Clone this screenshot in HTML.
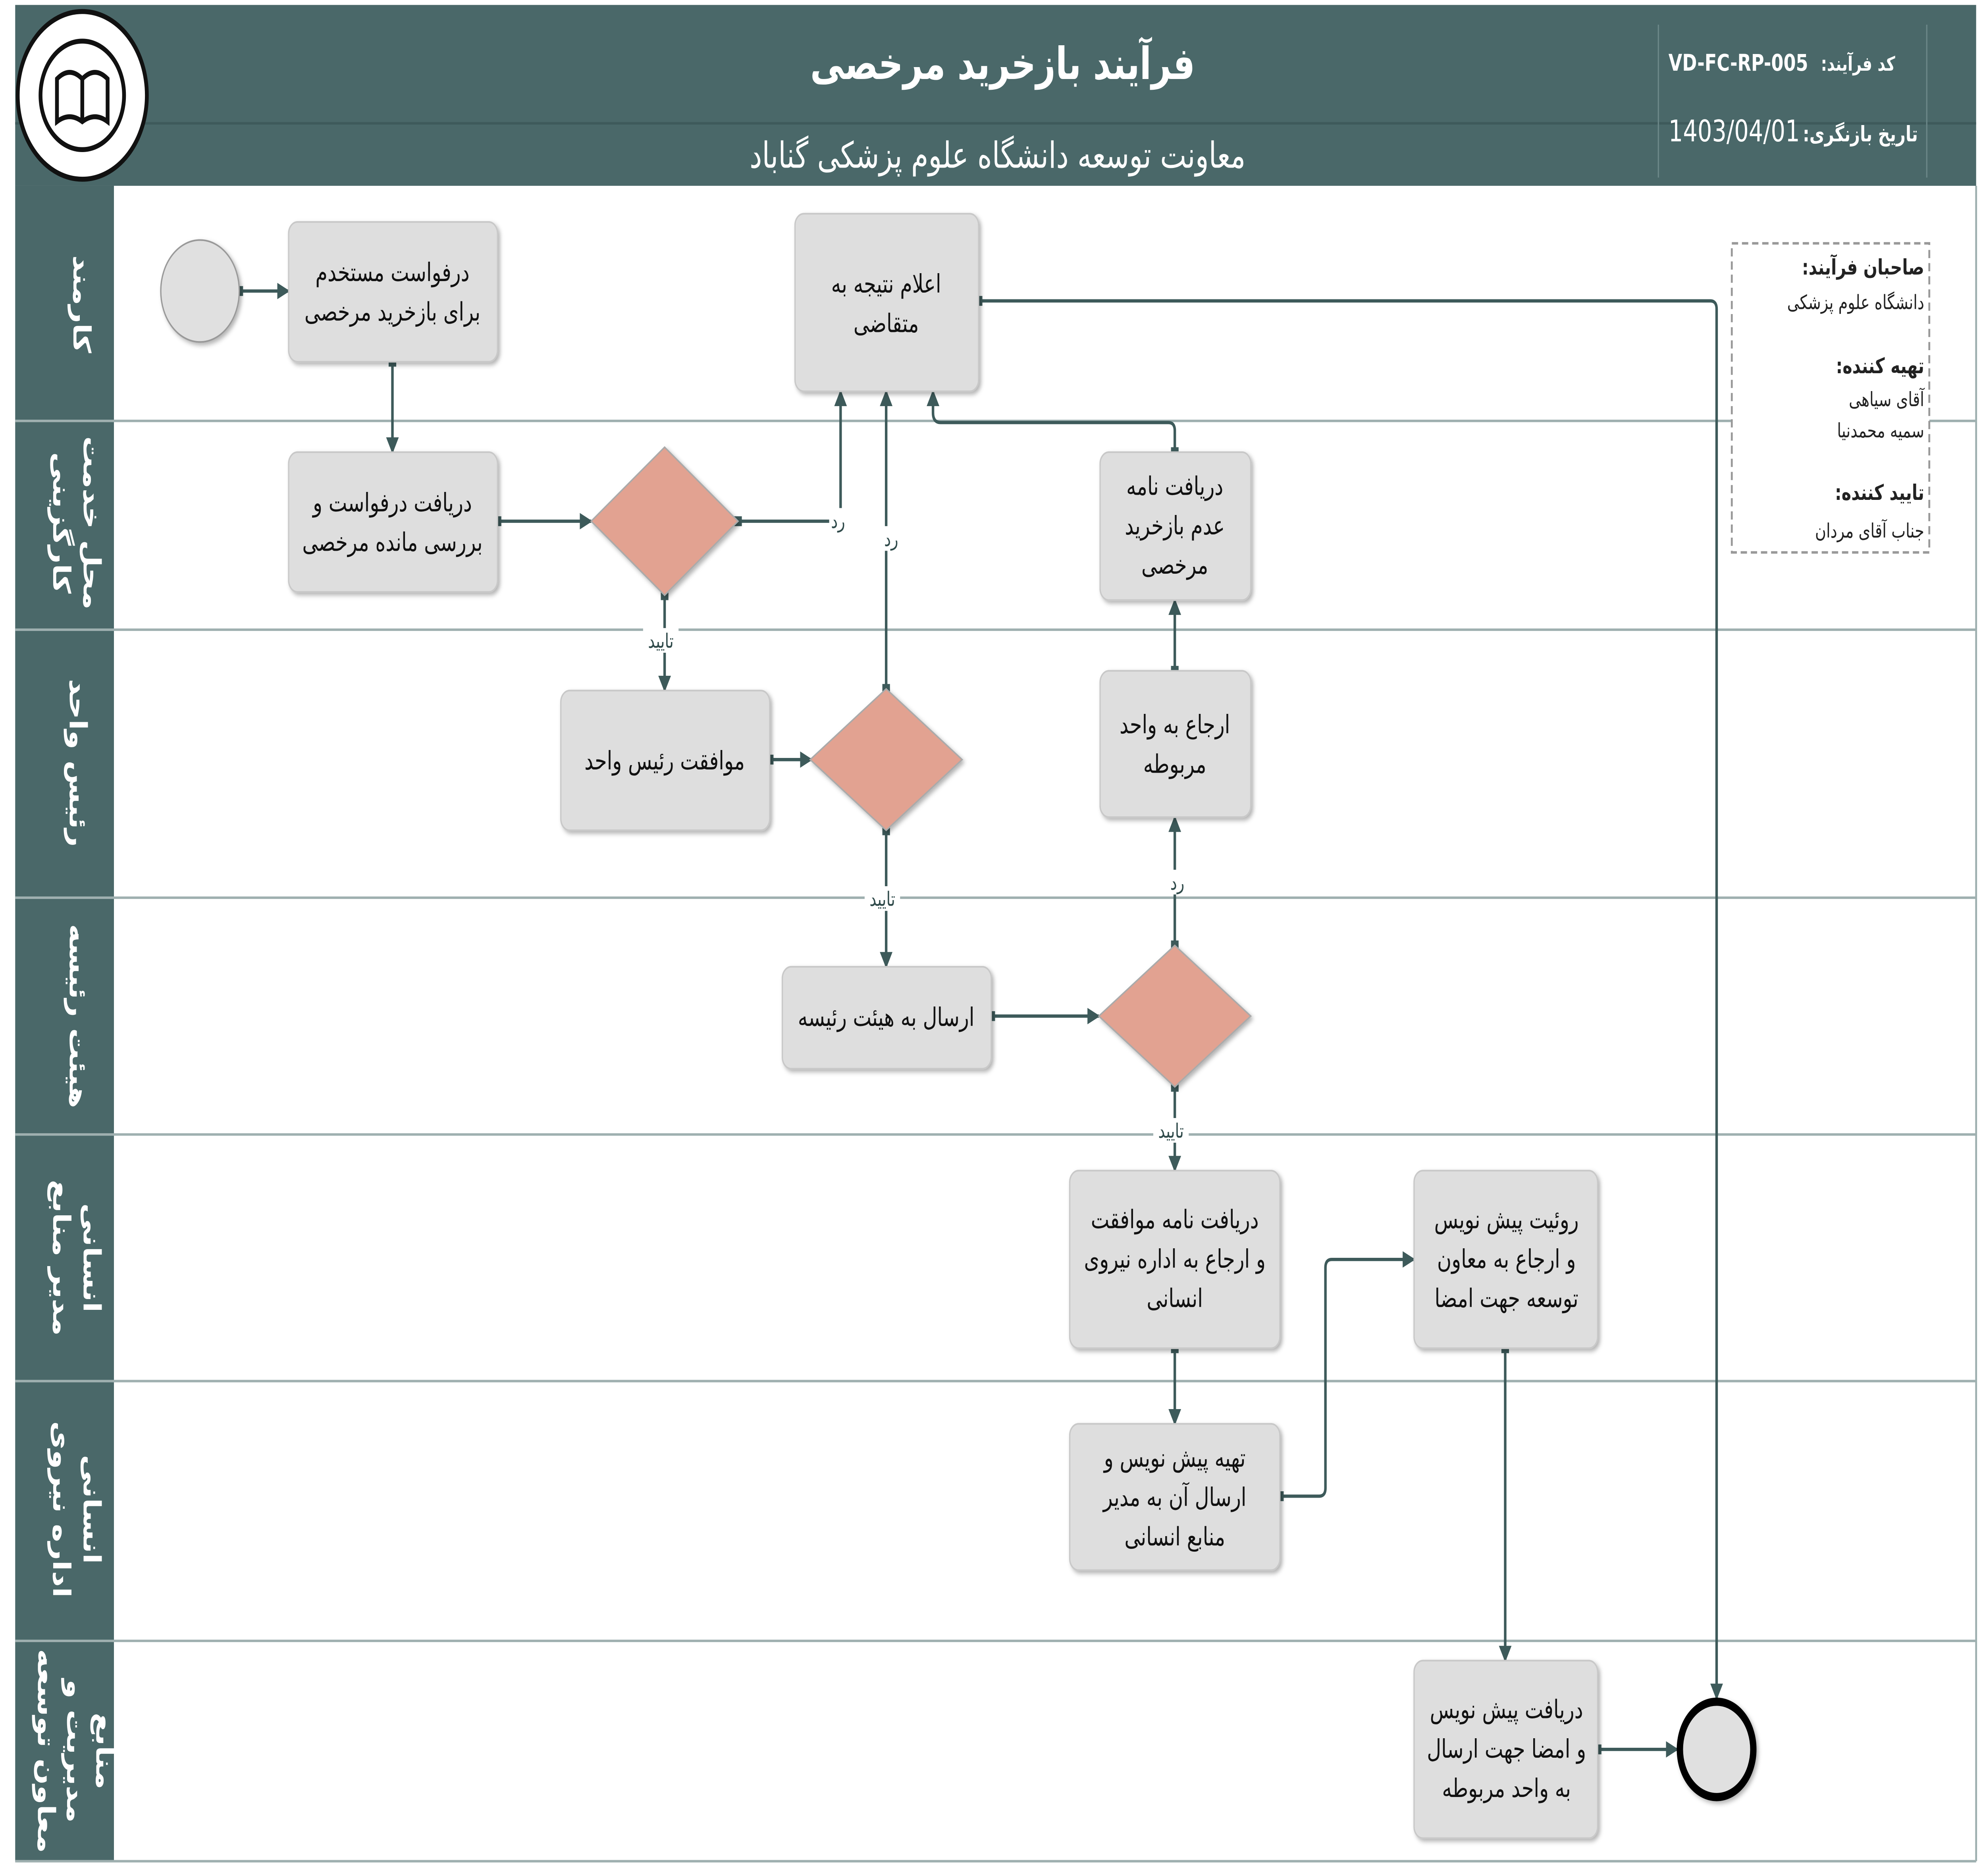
<!DOCTYPE html>
<html><head><meta charset="utf-8"><style>
html,body{margin:0;padding:0;background:#fff;width:100%;height:100%;overflow:hidden}
svg{display:block;width:100vw;height:100vh}
text{font-family:"DejaVu Sans","Liberation Sans",sans-serif}
</style></head><body>
<svg viewBox="0 0 1568 1141" preserveAspectRatio="none" xmlns="http://www.w3.org/2000/svg">
<defs>
<marker id="a" markerWidth="10" markerHeight="10" refX="9" refY="5" orient="auto" markerUnits="userSpaceOnUse"><path d="M0,0 L10,5 L0,10 z" fill="#3d5a5a"/></marker>
<filter id="sh" x="-10%" y="-10%" width="130%" height="130%"><feDropShadow dx="1.5" dy="1.5" stdDeviation="1.5" flood-color="#000" flood-opacity="0.3"/></filter>
</defs>
<rect width="1568" height="1141" fill="#fff"/>
<rect x="12" y="3" width="1549" height="110" fill="#4a6869"/>
<line x1="12" y1="75" x2="1561" y2="75" fill="none" stroke="#3e5a5b" stroke-width="1.5"/>
<line x1="1310" y1="15" x2="1310" y2="108" stroke="#6b8788" stroke-width="1"/>
<line x1="1522" y1="15" x2="1522" y2="108" stroke="#6b8788" stroke-width="1"/>
<text x="792" y="48" fill="#fff" font-size="27" font-weight="bold" text-anchor="middle" direction="rtl">فرآیند بازخرید مرخصی</text>
<text x="788" y="102" fill="#fff" font-size="22" text-anchor="middle" direction="rtl">معاونت توسعه دانشگاه علوم پزشکی گناباد</text>
<text x="1318" y="43" fill="#fff" font-size="14" font-weight="bold">VD-FC-RP-005</text>
<text x="1497" y="43" fill="#fff" font-size="12" font-weight="bold" text-anchor="start" direction="rtl">کد فرآیند:</text>
<text x="1318" y="86" fill="#fff" font-size="18" font-family="Liberation Serif">1403/04/01</text>
<text x="1515" y="86" fill="#fff" font-size="13" font-weight="bold" text-anchor="start" direction="rtl">تاریخ بازنگری:</text>
<circle cx="65" cy="58" r="51" fill="#fff" stroke="#111" stroke-width="3"/>
<circle cx="65" cy="58" r="33" fill="#fff" stroke="#111" stroke-width="3"/>
<path d="M45,48 q10,-8 20,0 q10,-8 20,0 v26 q-10,-6 -20,0 q-10,-6 -20,0z" fill="none" stroke="#111" stroke-width="3"/>
<line x1="65" y1="48" x2="65" y2="74" stroke="#111" stroke-width="3"/>
<rect x="12" y="113" width="78" height="1019" fill="#4a6869"/>
<g stroke="#9fb0b0" stroke-width="1.5">
<line x1="12" y1="256" x2="1561" y2="256"/>
<line x1="12" y1="383" x2="1561" y2="383"/>
<line x1="12" y1="546" x2="1561" y2="546"/>
<line x1="12" y1="690" x2="1561" y2="690"/>
<line x1="12" y1="840" x2="1561" y2="840"/>
<line x1="12" y1="998" x2="1561" y2="998"/>
<line x1="12" y1="1132" x2="1561" y2="1132"/>
<line x1="1561" y1="113" x2="1561" y2="1132"/>
</g>
<g fill="#fff" font-size="19" font-weight="bold" text-anchor="middle" direction="rtl">
<text transform="translate(58,185) rotate(90)">کارمند</text>
<text transform="translate(42,318) rotate(90)">کارگزینی</text>
<text transform="translate(66,318) rotate(90)">محل خدمت</text>
<text transform="translate(55,464) rotate(90)">رئیس واحد</text>
<text transform="translate(55,618) rotate(90)">هیئت رئیسه</text>
<text transform="translate(42,765) rotate(90)">مدیر منابع</text>
<text transform="translate(66,765) rotate(90)">انسانی</text>
<text transform="translate(42,918) rotate(90)">اداره نیروی</text>
<text transform="translate(66,918) rotate(90)">انسانی</text>
<text transform="translate(30,1065) rotate(90)">معاون توسعه</text>
<text transform="translate(53,1065) rotate(90)">مدیریت و</text>
<text transform="translate(76,1065) rotate(90)">منابع</text>
</g>
<rect x="1368" y="148" width="156" height="188" fill="#fff" stroke="#999" stroke-dasharray="5,3" stroke-width="1.5"/>
<g direction="rtl" text-anchor="start" fill="#222">
<text x="1520" y="167" font-size="13" font-weight="bold">صاحبان فرآیند:</text>
<text x="1520" y="188" font-size="12">دانشگاه علوم پزشکی</text>
<text x="1520" y="227" font-size="13" font-weight="bold">تهیه کننده:</text>
<text x="1520" y="247" font-size="12">آقای سیاهی</text>
<text x="1520" y="266" font-size="12">سمیه محمدنیا</text>
<text x="1520" y="304" font-size="13" font-weight="bold">تایید کننده:</text>
<text x="1520" y="327" font-size="12">جناب آقای مردان</text>
</g>
<g fill="none" stroke="#3d5a5a" stroke-width="2" marker-end="url(#a)">
<path d="M189,177 H228"/>
<path d="M310,220 V275"/>
<path d="M393,317 H467"/>
<path d="M583,317 H664 V238"/>
<path d="M525,362 V420"/>
<path d="M608,462 H641"/>
<path d="M700,419 V238"/>
<path d="M700,505 V588"/>
<path d="M783,618 H868"/>
<path d="M928,575 V497"/>
<path d="M928,408 V365"/>
<path d="M928,275 V262 Q928,257 923,257 H743 Q737,257 737,251 V238"/>
<path d="M928,661 V712"/>
<path d="M928,820 V866"/>
<path d="M1011,910 H1042 Q1047,910 1047,905 V771 Q1047,766 1052,766 H1117"/>
<path d="M1189,820 V1010"/>
<path d="M1262,1064 H1325"/>
<path d="M773,183 H1351 Q1356,183 1356,188 V1033"/>
</g>
<g fill="#3d5a5a">
<rect x="186" y="174" width="6" height="6"/><rect x="307" y="217" width="6" height="6"/>
<rect x="390" y="314" width="6" height="6"/><rect x="580" y="314" width="6" height="6"/>
<rect x="522" y="359" width="6" height="6"/><rect x="605" y="459" width="6" height="6"/>
<rect x="697" y="416" width="6" height="6"/><rect x="697" y="502" width="6" height="6"/>
<rect x="780" y="615" width="6" height="6"/><rect x="925" y="572" width="6" height="6"/>
<rect x="925" y="405" width="6" height="6"/><rect x="925" y="272" width="6" height="6"/>
<rect x="925" y="658" width="6" height="6"/><rect x="925" y="817" width="6" height="6"/>
<rect x="1008" y="907" width="6" height="6"/><rect x="1186" y="817" width="6" height="6"/>
<rect x="1259" y="1061" width="6" height="6"/><rect x="770" y="180" width="6" height="6"/>
</g>
<g font-size="12" fill="#2f4a4a" text-anchor="middle" direction="rtl">
<rect x="655" y="309" width="14" height="15" fill="#fff"/><text x="662" y="321">رد</text>
<rect x="697" y="320" width="14" height="15" fill="#fff"/><text x="704" y="332">رد</text>
<rect x="923" y="529" width="14" height="15" fill="#fff"/><text x="930" y="541">رد</text>
<rect x="508" y="382" width="28" height="15" fill="#fff"/><text x="522" y="394">تایید</text>
<rect x="683" y="539" width="28" height="15" fill="#fff"/><text x="697" y="551">تایید</text>
<rect x="911" y="680" width="28" height="15" fill="#fff"/><text x="925" y="692">تایید</text>
</g>
<g filter="url(#sh)">
<circle cx="158" cy="177" r="31" fill="#e0e0e0" stroke="#999" stroke-width="1"/>
<circle cx="1356" cy="1064" r="29" fill="#e0e0e0" stroke="#000" stroke-width="5"/>
<g fill="#dedede" stroke="#c8c8c8" stroke-width="1">
<rect x="228" y="135" width="165" height="85" rx="7"/>
<rect x="628" y="130" width="145" height="108" rx="7"/>
<rect x="228" y="275" width="165" height="85" rx="7"/>
<rect x="869" y="275" width="119" height="90" rx="7"/>
<rect x="443" y="420" width="165" height="85" rx="7"/>
<rect x="869" y="408" width="119" height="89" rx="7"/>
<rect x="618" y="588" width="165" height="62" rx="7"/>
<rect x="845" y="712" width="166" height="108" rx="7"/>
<rect x="1117" y="712" width="145" height="108" rx="7"/>
<rect x="845" y="866" width="166" height="89" rx="7"/>
<rect x="1117" y="1010" width="145" height="108" rx="7"/>
</g>
<g fill="#e2a291" stroke="#aaa" stroke-width="1">
<path d="M525,272 L583,317 L525,362 L467,317z"/>
<path d="M700,419 L760,462 L700,505 L640,462z"/>
<path d="M928,575 L988,618 L928,661 L868,618z"/>
</g>
</g>
<g font-size="15.5" fill="#111" text-anchor="middle" direction="rtl">
<text x="310" y="171">درفواست مستخدم</text><text x="310" y="195">برای بازخرید مرخصی</text>
<text x="700" y="178">اعلام نتیجه به</text><text x="700" y="202">متقاضی</text>
<text x="310" y="311">دریافت درفواست و</text><text x="310" y="335">بررسی مانده مرخصی</text>
<text x="928" y="301">دریافت نامه</text><text x="928" y="325">عدم بازخرید</text><text x="928" y="349">مرخصی</text>
<text x="525" y="468">موافقت رئیس واحد</text>
<text x="928" y="446">ارجاع به واحد</text><text x="928" y="470">مربوطه</text>
<text x="700" y="624">ارسال به هیئت رئیسه</text>
<text x="928" y="747">دریافت نامه موافقت</text><text x="928" y="771">و ارجاع به اداره نیروی</text><text x="928" y="795">انسانی</text>
<text x="1190" y="747">روئیت پیش نویس</text><text x="1190" y="771">و ارجاع به معاون</text><text x="1190" y="795">توسعه جهت امضا</text>
<text x="928" y="892">تهیه پیش نویس و</text><text x="928" y="916">ارسال آن به مدیر</text><text x="928" y="940">منابع انسانی</text>
<text x="1190" y="1045">دریافت پیش نویس</text><text x="1190" y="1069">و امضا جهت ارسال</text><text x="1190" y="1093">به واحد مربوطه</text>
</g>
</svg>
</body></html>
